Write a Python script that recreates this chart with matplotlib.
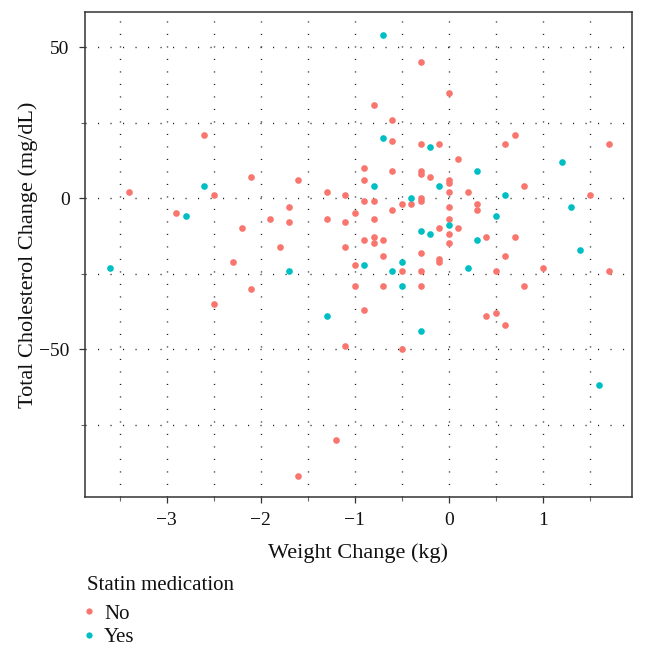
import matplotlib
matplotlib.use("Agg")
import matplotlib.pyplot as plt
from matplotlib.ticker import MultipleLocator
from matplotlib.lines import Line2D

plt.rcParams['font.family'] = ['Liberation Serif', 'DejaVu Serif']

# Statin medication = No
no_x = [-3.4, -2.9, -2.6, -2.5, -2.5, -2.3, -2.2, -2.1, -2.1, -1.9, -1.8, -1.7, -1.7, -1.6, -1.6,
        -1.3, -1.3, -1.2, -1.1, -1.1, -1.1, -1.1, -1.0, -1.0, -1.0, -0.9, -0.9, -0.9, -0.9, -0.9,
        -0.8, -0.8, -0.8, -0.8, -0.8, -0.7, -0.7, -0.7, -0.6, -0.6, -0.6, -0.6, -0.5, -0.5, -0.5,
        -0.4, -0.3, -0.3, -0.3, -0.3, -0.3, -0.3, -0.3, -0.3, -0.3, -0.2, -0.1, -0.1, -0.1, -0.1,
        0.0, 0.0, 0.0, 0.0, 0.0, 0.0, 0.0, 0.0, 0.1, 0.1, 0.2, 0.3, 0.3, 0.4, 0.4, 0.5, 0.5,
        0.6, 0.6, 0.6, 0.7, 0.7, 0.8, 0.8, 1.0, 1.5, 1.7, 1.7]
no_y = [2, -5, 21, 1, -35, -21, -10, 7, -30, -7, -16, -3, -8, 6, -92,
        2, -7, -80, 1, -8, -16, -49, -5, -22, -29, 10, 6, -1, -14, -37,
        31, -1, -7, -13, -15, -14, -19, -29, 26, 19, 9, -4, -2, -24, -50,
        -2, 45, 18, 9, 8, 0, -1, -18, -24, -29, 7, 18, -10, -20, -21,
        35, 6, 5, 2, -3, -7, -12, -15, 13, -10, 2, -2, -4, -13, -39, -24, -38,
        18, -19, -42, 21, -13, 4, -29, -23, 1, 18, -24]

# Statin medication = Yes
yes_x = [-3.6, -2.8, -2.6, -1.7, -1.3, -0.9, -0.8, -0.7, -0.7, -0.6, -0.5, -0.5, -0.4, -0.3,
         -0.3, -0.2, -0.2, -0.1, 0.0, 0.2, 0.3, 0.3, 0.5, 0.6, 1.2, 1.3, 1.4, 1.6]
yes_y = [-23, -6, 4, -24, -39, -22, 4, 54, 20, -24, -21, -29, 0, -11,
         -44, 17, -12, 4, -9, -23, 9, -14, -6, 1, 12, -3, -17, -62]

x_ticks = [-3, -2, -1, 0, 1]
y_ticks = [-50, 0, 50]
legend_title = "Statin medication"
legend_labels = ["No", "Yes"]
col_no = "#F8766D"
col_yes = "#00BFC4"

fig = plt.figure(figsize=(6.47, 6.56), dpi=100)
ax = fig.add_axes([85/647, 1-497/656, (632-85)/647, (497-12)/656])

ax.scatter(no_x, no_y, s=23, color=col_no, linewidths=0, zorder=3)
ax.scatter(yes_x, yes_y, s=23, color=col_yes, linewidths=0, zorder=4)

ax.set_xlim(-3.87, 1.95)
ax.set_ylim(-99, 61.7)
ax.set_xticks(x_ticks)
ax.set_xticklabels(["\u22123", "\u22122", "\u22121", "0", "1"])
ax.set_yticks(y_ticks)
ax.set_yticklabels(["\u221250", "0", "50"])
ax.xaxis.set_minor_locator(MultipleLocator(0.5))
ax.yaxis.set_minor_locator(MultipleLocator(25))

grid_kw = dict(color="#222222", linewidth=1.0, linestyle=(0, (0.8, 8.2)))
ax.grid(True, which="both", **grid_kw)
ax.set_axisbelow(True)

for sp in ax.spines.values():
    sp.set_color("#333333")
    sp.set_linewidth(1.1)

ax.tick_params(which="major", length=4, width=0.9, color="#333333", labelsize=14,
               labelcolor="#111111", pad=7)
ax.tick_params(which="minor", length=3, width=0.8, color="#666666")

ax.set_xlabel("Weight Change (kg)", fontsize=16, color="#111111")
ax.set_ylabel("Total Cholesterol Change (mg/dL)", fontsize=16, color="#111111")
ax.xaxis.set_label_coords(0.5, (497-543)/485)
ax.yaxis.set_label_coords((38-85)/547, 0.5)

fig.text(87/647, 1-585/656, legend_title, fontsize=15, va="center", ha="left", color="#111111")
handles = [Line2D([], [], marker="o", linestyle="", markersize=4.5, color=col_no, markeredgewidth=0),
           Line2D([], [], marker="o", linestyle="", markersize=4.5, color=col_yes, markeredgewidth=0)]
leg = fig.legend(handles, legend_labels, loc="upper left",
                 bbox_to_anchor=(79/647, 1-604/656), frameon=False, fontsize=15,
                 handletextpad=0.2, handlelength=1.0, borderaxespad=0,
                 labelspacing=0.2, borderpad=0)
for t in leg.get_texts():
    t.set_color("#111111")

fig.savefig("out.png", dpi=100)
